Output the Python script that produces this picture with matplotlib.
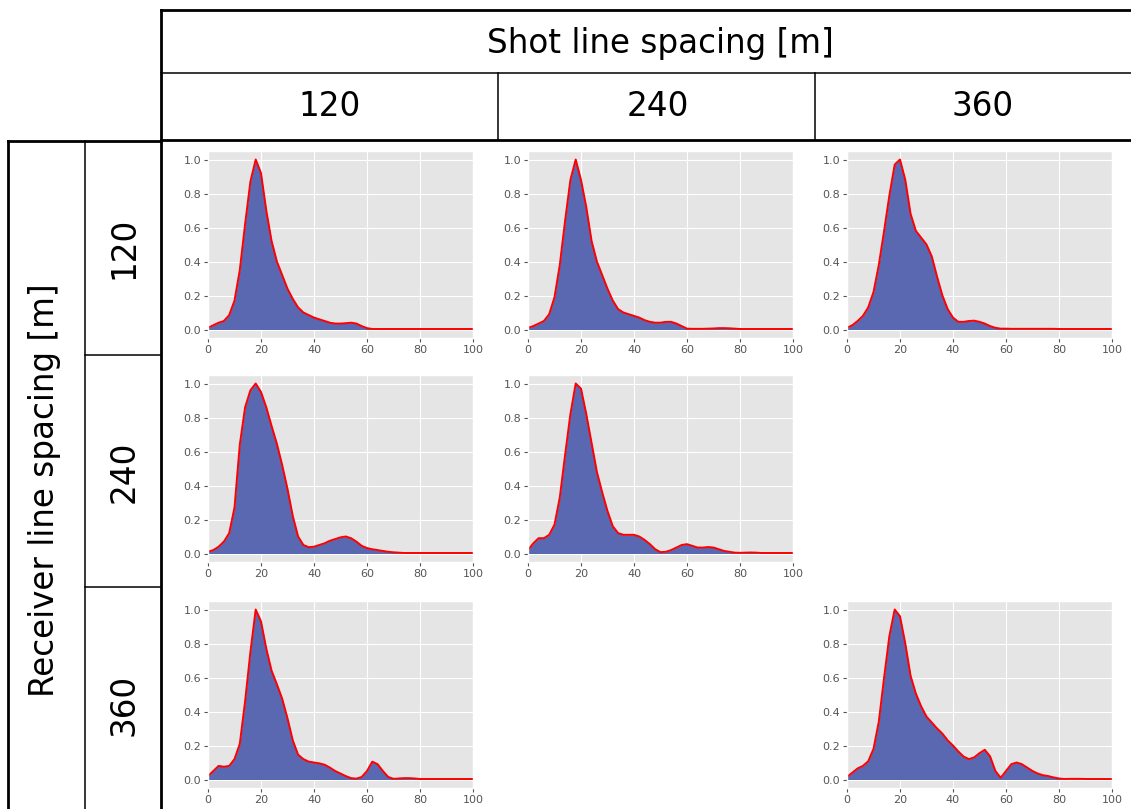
import numpy as np
import matplotlib.pyplot as plt

plt.style.use('ggplot')

# offset values shared by every panel
offset = np.arange(0, 101, 2)

shot_spacing = ["120", "240", "360"]
receiver_spacing = ["120", "240", "360"]

# normalised density per (receiver, shot) spacing
r120_s120 = [0.01, 0.025, 0.04, 0.05, 0.085, 0.17, 0.35, 0.62, 0.87, 1.0,
             0.92, 0.70, 0.52, 0.40, 0.32, 0.24, 0.18, 0.13, 0.10, 0.085,
             0.07, 0.06, 0.05, 0.04, 0.035, 0.035, 0.037, 0.04, 0.035, 0.02,
             0.008, 0.003, 0.003, 0.003, 0.003, 0.003, 0.003, 0.003, 0.003, 0.003,
             0.003, 0.003, 0.003, 0.003, 0.003, 0.003, 0.003, 0.003, 0.003, 0.003,
             0.003]
r120_s240 = [0.01, 0.02, 0.035, 0.05, 0.09, 0.19, 0.38, 0.64, 0.88, 1.0,
             0.88, 0.72, 0.52, 0.40, 0.32, 0.24, 0.17, 0.12, 0.10, 0.09,
             0.08, 0.07, 0.055, 0.045, 0.04, 0.04, 0.045, 0.045, 0.035, 0.02,
             0.005, 0.004, 0.004, 0.004, 0.005, 0.006, 0.008, 0.008, 0.007, 0.005,
             0.003, 0.003, 0.003, 0.003, 0.003, 0.003, 0.003, 0.003, 0.003, 0.003,
             0.003]
r120_s360 = [0.01, 0.025, 0.05, 0.08, 0.13, 0.22, 0.38, 0.58, 0.79, 0.97,
             1.0, 0.88, 0.68, 0.58, 0.54, 0.50, 0.43, 0.31, 0.20, 0.12,
             0.07, 0.045, 0.045, 0.05, 0.052, 0.045, 0.035, 0.02, 0.01, 0.005,
             0.005, 0.004, 0.004, 0.004, 0.004, 0.004, 0.004, 0.004, 0.004, 0.004,
             0.003, 0.003, 0.003, 0.003, 0.003, 0.003, 0.003, 0.003, 0.003, 0.003,
             0.003]
r240_s120 = [0.01, 0.02, 0.04, 0.07, 0.12, 0.27, 0.64, 0.86, 0.96, 1.0,
             0.95, 0.86, 0.75, 0.645, 0.52, 0.38, 0.22, 0.10, 0.05, 0.037,
             0.04, 0.05, 0.06, 0.075, 0.085, 0.095, 0.10, 0.09, 0.07, 0.045,
             0.032, 0.025, 0.02, 0.015, 0.01, 0.007, 0.005, 0.003, 0.003, 0.003,
             0.003, 0.003, 0.003, 0.003, 0.003, 0.003, 0.003, 0.003, 0.003, 0.003,
             0.003]
r240_s240 = [0.02, 0.06, 0.09, 0.09, 0.11, 0.17, 0.33, 0.58, 0.82, 1.0,
             0.97, 0.82, 0.65, 0.48, 0.36, 0.25, 0.16, 0.12, 0.11, 0.11,
             0.11, 0.10, 0.08, 0.055, 0.025, 0.008, 0.01, 0.02, 0.035, 0.05,
             0.055, 0.045, 0.035, 0.035, 0.038, 0.035, 0.025, 0.015, 0.01, 0.005,
             0.004, 0.005, 0.006, 0.005, 0.003, 0.003, 0.003, 0.003, 0.003, 0.003,
             0.003]
r360_s120 = [0.02, 0.05, 0.08, 0.075, 0.08, 0.12, 0.21, 0.46, 0.75, 1.0,
             0.93, 0.77, 0.64, 0.56, 0.475, 0.36, 0.23, 0.146, 0.12, 0.105,
             0.10, 0.095, 0.087, 0.07, 0.05, 0.035, 0.02, 0.008, 0.005, 0.015,
             0.05, 0.105, 0.09, 0.05, 0.015, 0.004, 0.006, 0.008, 0.008, 0.006,
             0.003, 0.003, 0.003, 0.003, 0.003, 0.003, 0.003, 0.003, 0.003, 0.003,
             0.003]
r360_s360 = [0.015, 0.04, 0.065, 0.08, 0.107, 0.18, 0.34, 0.60, 0.845, 1.0,
             0.96, 0.80, 0.61, 0.505, 0.43, 0.37, 0.335, 0.30, 0.27, 0.23,
             0.20, 0.165, 0.135, 0.12, 0.13, 0.155, 0.175, 0.136, 0.05, 0.01,
             0.05, 0.09, 0.10, 0.09, 0.07, 0.05, 0.035, 0.025, 0.02, 0.012,
             0.006, 0.003, 0.004, 0.004, 0.004, 0.003, 0.003, 0.003, 0.003, 0.003,
             0.003]

panels = {(0, 0): r120_s120, (0, 1): r120_s240, (0, 2): r120_s360,
          (1, 0): r240_s120, (1, 1): r240_s240,
          (2, 0): r360_s120, (2, 2): r360_s360}

W, H = 1131, 809
fig = plt.figure(figsize=(W / 100, H / 100), dpi=100)

# table frame drawn in pixel coordinates on a full-figure axes
bg = fig.add_axes([0, 0, 1, 1], zorder=-1)
bg.set_xlim(0, W)
bg.set_ylim(H, 0)
bg.axis('off')

thick, thin = 2.0, 1.1
k = dict(color='black', solid_capstyle='projecting')
bg.plot([161, W], [10, 10], lw=thick, **k)
bg.plot([161, 161], [10, H], lw=thick, **k)
bg.plot([161, W], [140, 140], lw=thick, **k)
bg.plot([8, 161], [141, 141], lw=thick, **k)
bg.plot([8, 8], [141, H], lw=thick, **k)
bg.plot([161, W], [73, 73], lw=thin, **k)
bg.plot([498, 498], [73, 140], lw=thin, **k)
bg.plot([815, 815], [73, 140], lw=thin, **k)
bg.plot([85, 85], [141, H], lw=thin, **k)
bg.plot([85, 161], [355, 355], lw=thin, **k)
bg.plot([85, 161], [587, 587], lw=thin, **k)

fs = 23.5
bg.text(660, 43, "Shot line spacing [m]", fontsize=fs, ha='center', va='center')
for label, cx in zip(shot_spacing, [330, 658, 983]):
    bg.text(cx, 106, label, fontsize=fs, ha='center', va='center')
bg.text(45, 490, "Receiver line spacing [m]", fontsize=fs, rotation=90,
        ha='center', va='center')
for label, cy in zip(receiver_spacing, [248, 472, 705]):
    bg.text(124, cy, label, fontsize=fs, rotation=90, ha='center', va='center')

col_left = [208, 528, 847]
row_top = [151, 375, 601]
aw, ah = 265, 187

for (r, c), dens in panels.items():
    l, t = col_left[c], row_top[r]
    ax = fig.add_axes([l / W, 1 - (t + ah) / H, aw / W, ah / H])
    ax.fill_between(offset, dens, color='#5a67b1', lw=0)
    ax.plot(offset, dens, color='red', lw=1.4)
    ax.set_xlim(0, 100)
    ax.set_ylim(-0.05, 1.05)
    ax.set_xticks(np.arange(0, 101, 20))
    ax.set_yticks(np.arange(0, 1.01, 0.2))
    ax.tick_params(labelsize=8, colors='#555555', length=3, pad=2)

fig.savefig('out.png', dpi=100)
